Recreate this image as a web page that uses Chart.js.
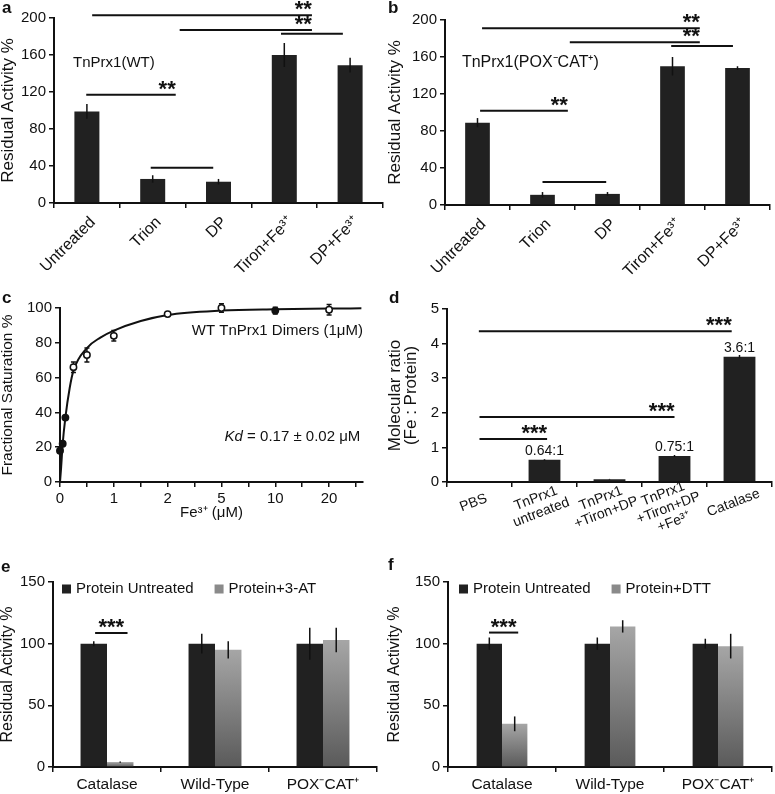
<!DOCTYPE html>
<html>
<head>
<meta charset="utf-8">
<script src="https://cdn.jsdelivr.net/npm/chart.js@4.4.1/dist/chart.umd.min.js"></script>
<style>
  body { margin: 0; background: #fff; }
  #page { position: relative; width: 775px; height: 794px; overflow: hidden; font-family: "Liberation Sans", Arial, sans-serif; }
  canvas { position: absolute; }
  .tag { position: absolute; font-weight: bold; font-size: 17px; line-height: 17px; color: #111; }
</style>
</head>
<body>
<div id="page">
  <canvas id="chartA" width="387" height="275" style="left:0px;top:0px"></canvas>
  <canvas id="chartB" width="388" height="275" style="left:387px;top:0px"></canvas>
  <canvas id="chartC" width="387" height="240" style="left:0px;top:285px"></canvas>
  <canvas id="chartD" width="388" height="262" style="left:387px;top:285px"></canvas>
  <canvas id="chartE" width="387" height="239" style="left:0px;top:555px"></canvas>
  <canvas id="chartF" width="388" height="239" style="left:387px;top:555px"></canvas>
  <div class="tag" style="left:2px;top:-1px">a</div>
  <div class="tag" style="left:388px;top:-1px">b</div>
  <div class="tag" style="left:2px;top:289px">c</div>
  <div class="tag" style="left:389px;top:289px">d</div>
  <div class="tag" style="left:1px;top:558px">e</div>
  <div class="tag" style="left:388px;top:556px">f</div>
</div>
<script>
// ---- data ----

// a, b: residual activity after iron removal / re-addition
const treatLabels = ['Untreated', 'Trion', 'DP', 'Tiron+Fe³⁺', 'DP+Fe³⁺'];
const activityTicks = [0, 40, 80, 120, 160, 200];
const wtActivity = [99, 26, 23, 160, 149];
const wtActivityErr = [8, 4, 3, 13, 8];
const mutActivity = [89, 11, 12, 150, 148];
const mutActivityErr = [5, 3, 2, 10, 2];
// significance bars: [from category, to category, value, stars, star alignment]
const sigA = [[0.08, 3.42, 203, '**'], [1.41, 3.42, 187, '**'], [2.95, 3.89, 183, ''], [-0.01, 1.35, 117, '**'], [0.97, 1.92, 38, '']];
const sigB = [[0.07, 3.42, 191, '**'], [1.42, 3.42, 176, '**'], [2.98, 3.93, 172, ''], [0.04, 1.39, 102, '**'], [1.0, 1.98, 25, '']];

// c: Fe3+ binding curve (x axis is broken: equal spacing between these ticks)
const concTicks = [0, 1, 2, 5, 10, 20];
const satTicks = [0, 10, 20, 30, 40, 50, 60, 70, 80, 90, 100];
const satConc = [0, 0.05, 0.1, 0.25, 0.5, 1, 2, 5, 10, 20];
const satValue = [18, 22, 37, 66, 73, 84, 96.5, 100, 98.5, 99];
const satErr = [0, 0, 0, 3, 4, 3, 0, 2.5, 2, 3];
const fitConc = [0, 0.02, 0.05, 0.1, 0.18, 0.25, 0.5, 0.75, 1, 1.5, 2, 5, 10, 20, 26];
const fitValue = [0, 8, 22, 37, 54, 64, 77, 83, 87, 92.5, 96, 98.5, 99.3, 99.7, 99.8];

// d: iron content
const ratioLabels = ['PBS', ['TnPrx1', 'untreated'], ['TnPrx1', '+Tiron+DP'], ['TnPrx1', '+Tiron+DP', '+Fe³⁺'], 'Catalase'];
const ratioTicks = [0, 1, 2, 3, 4, 5];
const ratioValue = [0, 0.64, 0.08, 0.75, 3.62];
const ratioErr = [0, 0.02, 0.01, 0.03, 0.05];
const ratioText = ['', '0.64:1', '', '0.75:1', '3.6:1'];
const sigD = [[-0.01, 3.88, 4.36, '***'], [0, 3.0, 1.88, '***'], [0, 1.04, 1.24, '***']];

// e, f: inhibitor / reductant
const proteinLabels = ['Catalase', 'Wild-Type', 'POX⁻CAT⁺'];
const residualTicks = [0, 50, 100, 150];
const untreatedE = [100, 100, 100];
const untreatedErrE = [2, 8, 13];
const atE = [4, 95, 103];
const atErrE = [0.5, 7, 10];
const untreatedF = [100, 100, 100];
const untreatedErrF = [5, 5, 4];
const dttF = [35, 114, 98];
const dttErrF = [6, 5, 10];
const sigE = [[-0.11, 0.19, 108.6, '***', 'center']];
const sigF = [[-0.12, 0.15, 109, '***', 'center']];

// ---- shared setup ----
Chart.defaults.font.family = '"Liberation Sans", Arial, sans-serif';
Chart.defaults.color = '#111';
Chart.defaults.animation = false;
const INK = '#111';
const FONT = '"Liberation Sans", Arial, sans-serif';

// broken axis: concentration -> evenly spaced tick position
function concPos(c) {
  for (let i = 1; i < concTicks.length; i++) {
    if (c <= concTicks[i] || i === concTicks.length - 1) {
      return i - 1 + (c - concTicks[i - 1]) / (concTicks[i] - concTicks[i - 1]);
    }
  }
}

function grayFill(context) {
  const chart = context.chart;
  const ys = chart.scales.y;
  if (!ys || !chart.chartArea || typeof context.raw !== 'number') return '#8c8c8c';
  const top = ys.getPixelForValue(context.raw);
  const bot = ys.getPixelForValue(0);
  const g = chart.ctx.createLinearGradient(0, top, 0, bot);
  g.addColorStop(0, '#a6a6a6');
  g.addColorStop(1, '#5a5a5a');
  return g;
}

function drawErrors(chart, opts) {
  const ctx = chart.ctx;
  const ys = chart.scales.y;
  ctx.save();
  ctx.strokeStyle = INK;
  ctx.lineWidth = 1.5;
  (opts.errors || []).forEach(function (errs, d) {
    if (!errs) return;
    const meta = chart.getDatasetMeta(d);
    meta.data.forEach(function (el, i) {
      const e = errs[i];
      if (!e) return;
      const raw = chart.data.datasets[d].data[i];
      const v = typeof raw === 'object' ? raw.y : raw;
      const top = ys.getPixelForValue(v + e);
      const bot = ys.getPixelForValue(v - e);
      ctx.beginPath();
      ctx.moveTo(el.x, top);
      ctx.lineTo(el.x, bot);
      if (opts.cap) {
        ctx.moveTo(el.x - opts.cap, top); ctx.lineTo(el.x + opts.cap, top);
        ctx.moveTo(el.x - opts.cap, bot); ctx.lineTo(el.x + opts.cap, bot);
      }
      ctx.stroke();
    });
  });
  ctx.restore();
}

// error bars, significance lines, in-plot texts, slanted labels and the inside legend
const extras = {
  id: 'extras',
  beforeDatasetsDraw(chart, args, opts) {
    if (opts.errBehind) drawErrors(chart, opts);
  },
  afterDatasetsDraw(chart, args, opts) {
    const ctx = chart.ctx;
    const xs = chart.scales.x, ys = chart.scales.y;
    if (!opts.errBehind) drawErrors(chart, opts);
    ctx.save();
    ctx.fillStyle = INK;
    ctx.strokeStyle = INK;

    (opts.sig || []).forEach(function (s) {
      const x1 = xs.getPixelForValue(s[0]);
      const x2 = xs.getPixelForValue(s[1]);
      const py = ys.getPixelForValue(s[2]);
      ctx.lineWidth = 2;
      ctx.beginPath();
      ctx.moveTo(x1, py);
      ctx.lineTo(x2, py);
      ctx.stroke();
      if (s[3]) {
        ctx.font = 'bold 22px ' + FONT;
        ctx.textBaseline = 'alphabetic';
        ctx.textAlign = s[4] === 'center' ? 'center' : 'right';
        ctx.fillText(s[3], s[4] === 'center' ? (x1 + x2) / 2 : x2, py + 1);
      }
    });

    if (opts.valueText) {
      const meta = chart.getDatasetMeta(0);
      ctx.font = '14px ' + FONT;
      ctx.textAlign = 'center';
      ctx.textBaseline = 'bottom';
      meta.data.forEach(function (el, i) {
        if (opts.valueText[i]) ctx.fillText(opts.valueText[i], el.x, el.y - 2);
      });
    }

    (opts.texts || []).forEach(function (t) {
      const px = xs.getPixelForValue(t.x);
      const py = ys.getPixelForValue(t.y);
      const size = t.size || 15;
      ctx.textBaseline = 'middle';
      ctx.textAlign = 'left';
      let total = 0;
      t.parts.forEach(function (p) { ctx.font = p[1] + ' ' + size + 'px ' + FONT; total += ctx.measureText(p[0]).width; });
      let cx = t.align === 'right' ? px - total : px;
      t.parts.forEach(function (p) {
        ctx.font = p[1] + ' ' + size + 'px ' + FONT;
        ctx.fillText(p[0], cx, py);
        cx += ctx.measureText(p[0]).width;
      });
    });

    // category labels turned about their own centre
    if (opts.slant) {
      const sl = opts.slant;
      ctx.font = sl.size + 'px ' + FONT;
      ctx.textAlign = 'center';
      ctx.textBaseline = 'middle';
      chart.data.labels.forEach(function (lab, i) {
        const lines = Array.isArray(lab) ? lab : [lab];
        const cx = xs.getPixelForTick(i) + sl.dx;
        const cy = chart.chartArea.bottom + sl.dy + (lines.length - 1) * 2.5;
        ctx.save();
        ctx.translate(cx, cy);
        ctx.rotate(-sl.angle * Math.PI / 180);
        lines.forEach(function (ln, k) {
          ctx.fillText(ln, 0, (k - (lines.length - 1) / 2) * sl.lineHeight);
        });
        ctx.restore();
      });
    }

    if (opts.legend) {
      const area = chart.chartArea;
      let lx = area.left + opts.legend.dx;
      const ly = area.top + opts.legend.dy;
      ctx.font = '15px ' + FONT;
      ctx.textAlign = 'left';
      ctx.textBaseline = 'middle';
      chart.data.datasets.forEach(function (ds, d) {
        ctx.fillStyle = opts.legend.colors[d];
        ctx.fillRect(lx, ly - 4.5, 9, 9);
        ctx.fillStyle = INK;
        ctx.fillText(ds.label, lx + 14, ly);
        lx += 14 + ctx.measureText(ds.label).width + 21;
      });
    }
    ctx.restore();
  }
};

function catAxis(height, rotation, size, shift, pad) {
  return {
    type: 'category',
    border: { color: INK, width: 2 },
    grid: { drawOnChartArea: false, color: INK, lineWidth: 1.5, tickLength: 5, offset: true },
    ticks: { autoSkip: false, minRotation: rotation, maxRotation: rotation, labelOffset: shift, padding: pad, color: INK, font: { size: size } },
    afterFit: function (s) { s.height = height; s.paddingLeft = 0; s.paddingRight = 0; }
  };
}

function valueAxis(width, tickList, title, titleSize, labelEvery) {
  return {
    min: tickList[0],
    max: tickList[tickList.length - 1],
    border: { color: INK, width: 2 },
    grid: { drawOnChartArea: false, color: INK, lineWidth: 1.5, tickLength: 5 },
    ticks: {
      padding: 3, color: INK, font: { size: 15 },
      callback: function (v) { return labelEvery && v % labelEvery !== 0 ? '' : v; }
    },
    title: { display: true, text: title, color: INK, font: { size: titleSize, lineHeight: 0.95 }, padding: 0 },
    afterBuildTicks: function (s) { s.ticks = tickList.map(function (v) { return { value: v }; }); },
    afterFit: function (s) { s.width = width; s.paddingTop = 0; s.paddingBottom = 0; }
  };
}

const quiet = { legend: { display: false }, tooltip: { enabled: false } };

// a: TnPrx1(WT)
var ctx = document.getElementById('chartA').getContext('2d');
var chart = new Chart(ctx, {
  type: 'bar',
  data: {
    labels: treatLabels,
    datasets: [{ data: wtActivity, backgroundColor: '#212121', barPercentage: 0.38, categoryPercentage: 1 }]
  },
  options: {
    responsive: false,
    layout: { padding: { top: 18, right: 4, left: 0, bottom: 0 } },
    plugins: Object.assign({
      extras: { errors: [wtActivityErr], sig: sigA, texts: [{ x: -0.21, y: 152, parts: [['TnPrx1(WT)', '']] }] }
    }, quiet),
    scales: { x: catAxis(72, 45, 16, 6, 5), y: valueAxis(54, activityTicks, 'Residual Activity %', 17) }
  },
  plugins: [extras]
});

// b: TnPrx1(POX-CAT+)
ctx = document.getElementById('chartB').getContext('2d');
chart = new Chart(ctx, {
  type: 'bar',
  data: {
    labels: treatLabels,
    datasets: [{ data: mutActivity, backgroundColor: '#212121', barPercentage: 0.38, categoryPercentage: 1 }]
  },
  options: {
    responsive: false,
    layout: { padding: { top: 20, right: 5, left: 0, bottom: 0 } },
    plugins: Object.assign({
      extras: { errors: [mutActivityErr], sig: sigB, texts: [{ x: -0.24, y: 154, size: 16, parts: [['TnPrx1(POX⁻CAT⁺)', '']] }] }
    }, quiet),
    scales: { x: catAxis(70, 45, 16, 6, 5), y: valueAxis(58, activityTicks, 'Residual Activity %', 17) }
  },
  plugins: [extras]
});

// c: binding curve
const solidPoints = [0, 1, 2, 8];
ctx = document.getElementById('chartC').getContext('2d');
chart = new Chart(ctx, {
  type: 'scatter',
  data: {
    datasets: [{
      data: satConc.map(function (c, i) { return { x: concPos(c), y: satValue[i] }; }),
      pointRadius: 3.2,
      pointBorderWidth: 1.5,
      pointBorderColor: INK,
      pointBackgroundColor: function (c) { return solidPoints.indexOf(c.dataIndex) >= 0 ? INK : '#fff'; },
      clip: false
    }, {
      type: 'line',
      data: fitConc.map(function (c, i) { return { x: concPos(c), y: fitValue[i] }; }),
      borderColor: INK,
      borderWidth: 2,
      pointRadius: 0,
      cubicInterpolationMode: 'monotone',
      clip: false
    }]
  },
  options: {
    responsive: false,
    layout: { padding: { top: 23, right: 24, left: 0, bottom: 0 } },
    plugins: Object.assign({
      extras: {
        errors: [satErr], cap: 2.5, errBehind: true,
        texts: [
          { x: 5.63, y: 87, align: 'right', parts: [['WT TnPrx1 Dimers (1μM)', '']] },
          { x: 5.58, y: 26, align: 'right', parts: [['Kd', 'italic'], [' = 0.17 ± 0.02 μM', '']] }
        ]
      }
    }, quiet),
    scales: {
      x: {
        type: 'linear', min: 0, max: 5.63,
        border: { color: INK, width: 2 },
        grid: { drawOnChartArea: false, color: INK, lineWidth: 1.5, tickLength: 5 },
        ticks: {
          includeBounds: false, autoSkip: false, maxRotation: 0, padding: 3, color: INK, font: { size: 15 },
          callback: function (v) { return Number.isInteger(v) ? String(concTicks[v]) : ''; }
        },
        title: { display: true, text: 'Fe³⁺ (μM)', color: INK, font: { size: 15 }, padding: { top: 0, bottom: 3 } },
        afterBuildTicks: function (s) {
          s.ticks = [];
          for (let p = 0; p <= concTicks.length - 0.5; p += 0.5) s.ticks.push({ value: p });
        },
        afterFit: function (s) { s.height = 43; s.paddingLeft = 0; s.paddingRight = 0; }
      },
      y: valueAxis(60, satTicks, 'Fractional Saturation %', 15.5, 20)
    }
  },
  plugins: [extras]
});

// d: Fe : protein ratio
ctx = document.getElementById('chartD').getContext('2d');
var axisD = catAxis(65, 0, 14, 0, 2);
axisD.ticks.display = false;
chart = new Chart(ctx, {
  type: 'bar',
  data: {
    labels: ratioLabels,
    datasets: [{ data: ratioValue, backgroundColor: '#212121', barPercentage: 0.49, categoryPercentage: 1 }]
  },
  options: {
    responsive: false,
    layout: { padding: { top: 24, right: 3, left: 0, bottom: 0 } },
    plugins: Object.assign({
      extras: {
        errors: [ratioErr], sig: sigD, valueText: ratioText,
        slant: { size: 14, angle: 21, dx: -6, dy: 21, lineHeight: 15 }
      }
    }, quiet),
    scales: {
      x: axisD,
      y: valueAxis(60, ratioTicks, ['Molecular ratio', '(Fe : Protein)'], 17)
    }
  },
  plugins: [extras]
});

// e: 3-AT
ctx = document.getElementById('chartE').getContext('2d');
chart = new Chart(ctx, {
  type: 'bar',
  data: {
    labels: proteinLabels,
    datasets: [
      { label: 'Protein Untreated', data: untreatedE, backgroundColor: '#212121', barPercentage: 1, categoryPercentage: 0.49 },
      { label: 'Protein+3-AT', data: atE, backgroundColor: grayFill, barPercentage: 1, categoryPercentage: 0.49 }
    ]
  },
  options: {
    responsive: false,
    layout: { padding: { top: 27, right: 10, left: 0, bottom: 0 } },
    plugins: Object.assign({
      extras: { errors: [untreatedErrE, atErrE], sig: sigE, legend: { dx: 9, dy: 7, colors: ['#212121', '#8a8a8a'] } }
    }, quiet),
    scales: { x: catAxis(27, 0, 15.5, 0, 3), y: valueAxis(53, residualTicks, 'Residual Activity %', 16) }
  },
  plugins: [extras]
});

// f: DTT
ctx = document.getElementById('chartF').getContext('2d');
chart = new Chart(ctx, {
  type: 'bar',
  data: {
    labels: proteinLabels,
    datasets: [
      { label: 'Protein Untreated', data: untreatedF, backgroundColor: '#212121', barPercentage: 1, categoryPercentage: 0.47 },
      { label: 'Protein+DTT', data: dttF, backgroundColor: grayFill, barPercentage: 1, categoryPercentage: 0.47 }
    ]
  },
  options: {
    responsive: false,
    layout: { padding: { top: 27, right: 3, left: 0, bottom: 0 } },
    plugins: Object.assign({
      extras: { errors: [untreatedErrF, dttErrF], sig: sigF, legend: { dx: 11, dy: 7, colors: ['#212121', '#8a8a8a'] } }
    }, quiet),
    scales: { x: catAxis(27, 0, 15.5, 0, 3), y: valueAxis(61, residualTicks, 'Residual Activity %', 16) }
  },
  plugins: [extras]
});
</script>
</body>
</html>
